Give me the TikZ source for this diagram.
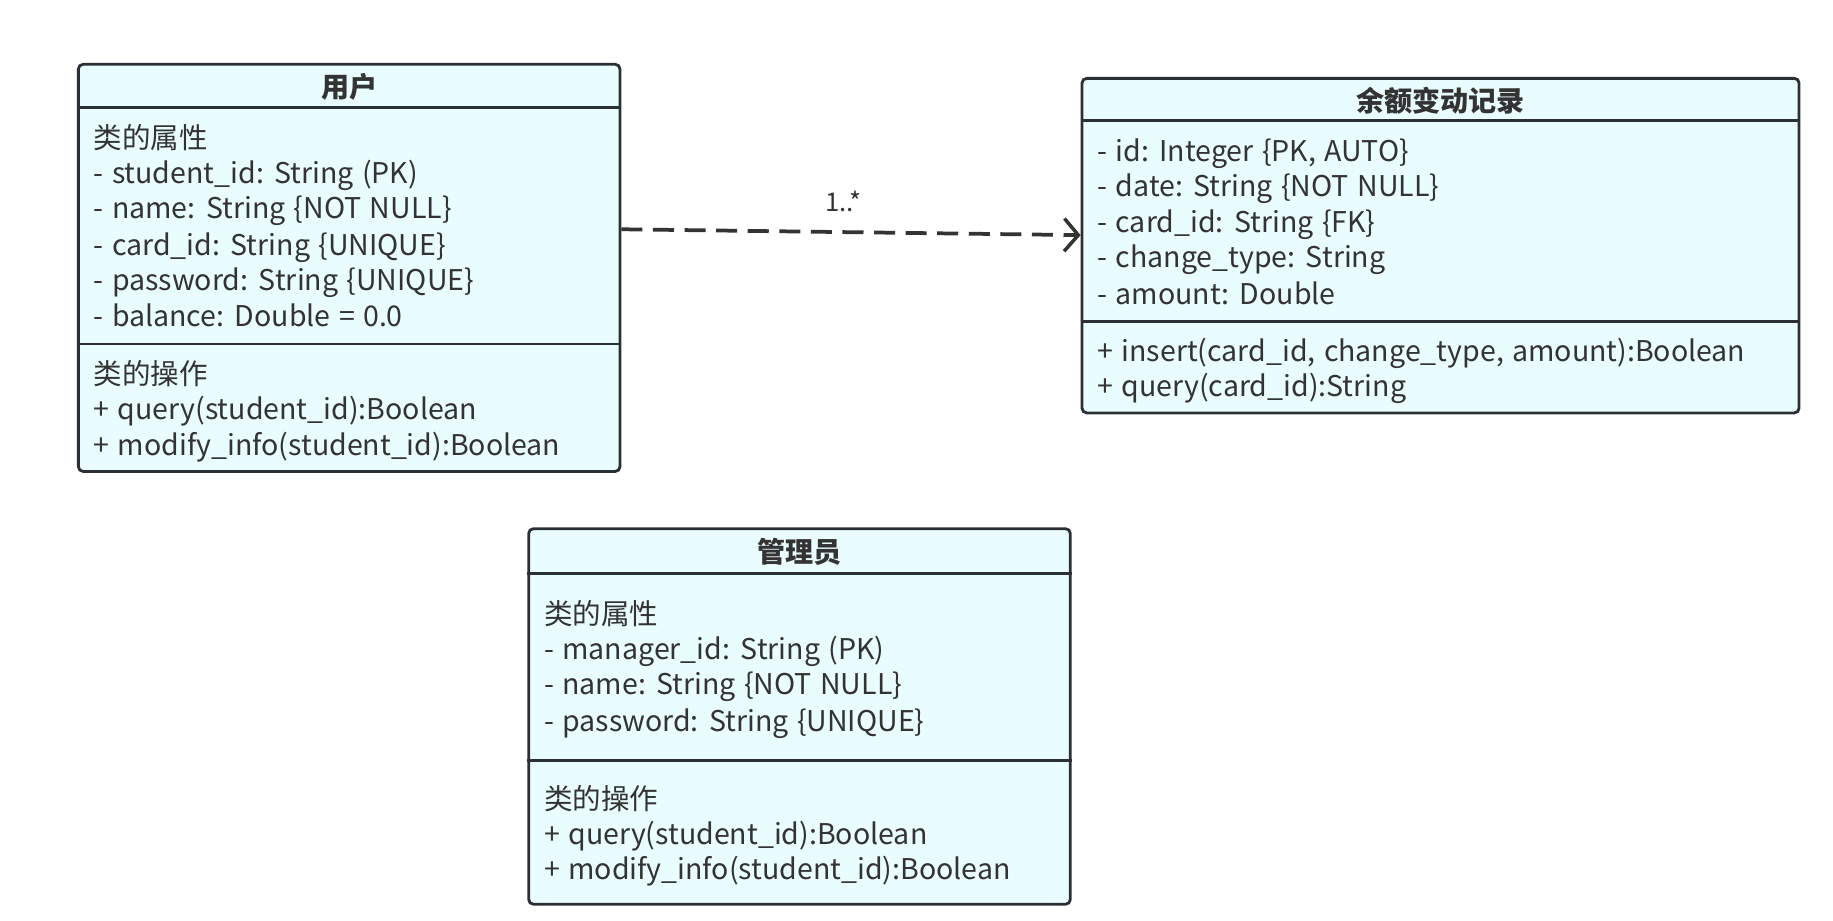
\documentclass[tikz,border=0pt]{standalone}
\usepackage{fontspec}
\setmainfont{Noto Sans CJK SC}[WordSpace=1.3]
\usetikzlibrary{arrows.meta}
\definecolor{boxfill}{HTML}{EAFDFE}
\definecolor{boxline}{HTML}{2B3036}
\definecolor{txt}{HTML}{333333}
\tikzset{
  classbox/.style={draw=boxline, fill=boxfill, line width=2.4pt, rounded corners=4pt, inner sep=0pt},
  sepline/.style={draw=boxline, line width=2.4pt},
  ln/.style={anchor=west, inner sep=0pt, text height=24pt, text depth=6pt, text=txt, font=\fontsize{24.4}{29}\selectfont},
  ttl/.style={anchor=center, inner sep=0pt, text=txt, font=\fontsize{24}{29}\selectfont\bfseries},
  dep/.style={draw=txt, line width=3.2pt, dash pattern=on 18pt off 9pt, -{Straight Barb[length=12pt,width=28pt,line width=3pt]}},
  mult/.style={inner sep=0pt, text=txt, font=\fontsize{22}{26}\selectfont}
}
\begin{document}
\begin{tikzpicture}[x=1pt,y=-1pt]
\useasboundingbox (0,0) rectangle (1567,787);
% ---- user
\node[classbox, minimum width=463pt, minimum height=348pt] (user) at (298.5,229) {};
\draw[sepline] (user.west |- 0,92) -- (user.east |- 0,92);
\draw[sepline] (user.west |- 0,294) -- (user.east |- 0,294);
\node[ttl] (ut) at (298.5,74) {用户};
\node[ln] (u1) at (80,118) {类的属性};
\node[ln] (u2) at (80,148) {- student\_id: String (PK)};
\node[ln] (u3) at (80,178) {- name: String \{NOT NULL\}};
\node[ln] (u4) at (80,209) {- card\_id: String \{UNIQUE\}};
\node[ln] (u5) at (80,239) {- password: String \{UNIQUE\}};
\node[ln] (u6) at (80,270) {- balance: Double = 0.0};
\node[ln] (u7) at (80,320) {类的操作};
\node[ln] (u8) at (80,350) {+ query(student\_id):Boolean};
\node[ln] (u9) at (80,380) {+ modify\_info(student\_id):Boolean};
% ---- record
\node[classbox, minimum width=613pt, minimum height=286pt] (rec) at (1231.5,210) {};
\draw[sepline] (rec.west |- 0,103) -- (rec.east |- 0,103);
\draw[sepline] (rec.west |- 0,275) -- (rec.east |- 0,275);
\node[ttl] (rt) at (1231.5,86) {余额变动记录};
\node[ln] (r1) at (938,129) {- id: Integer \{PK, AUTO\}};
\node[ln] (r2) at (938,159) {- date: String \{NOT NULL\}};
\node[ln] (r3) at (938,190) {- card\_id: String \{FK\}};
\node[ln] (r4) at (938,220) {- change\_type: String};
\node[ln] (r5) at (938,251) {- amount: Double};
\node[ln] (r6) at (938,300) {+ insert(card\_id, change\_type, amount):Boolean};
\node[ln] (r7) at (938,330) {+ query(card\_id):String};
% ---- manager
\node[classbox, minimum width=463pt, minimum height=321pt] (mgr) at (683.5,612.5) {};
\draw[sepline] (mgr.west |- 0,490) -- (mgr.east |- 0,490);
\draw[sepline] (mgr.west |- 0,650) -- (mgr.east |- 0,650);
\node[ttl] (mt) at (683.5,472) {管理员};
\node[ln] (m1) at (465,525) {类的属性};
\node[ln] (m2) at (465,555) {- manager\_id: String (PK)};
\node[ln] (m3) at (465,585) {- name: String \{NOT NULL\}};
\node[ln] (m4) at (465,616) {- password: String \{UNIQUE\}};
\node[ln] (m5) at (465,683) {类的操作};
\node[ln] (m6) at (465,713) {+ query(student\_id):Boolean};
\node[ln] (m7) at (465,743) {+ modify\_info(student\_id):Boolean};
% ---- dependency
\draw[dep] (user.east |- 0,196) -- (rec.west |- 0,201);
\node[mult] (lbl) at (721,172) {1..*};
\end{tikzpicture}
\end{document}
